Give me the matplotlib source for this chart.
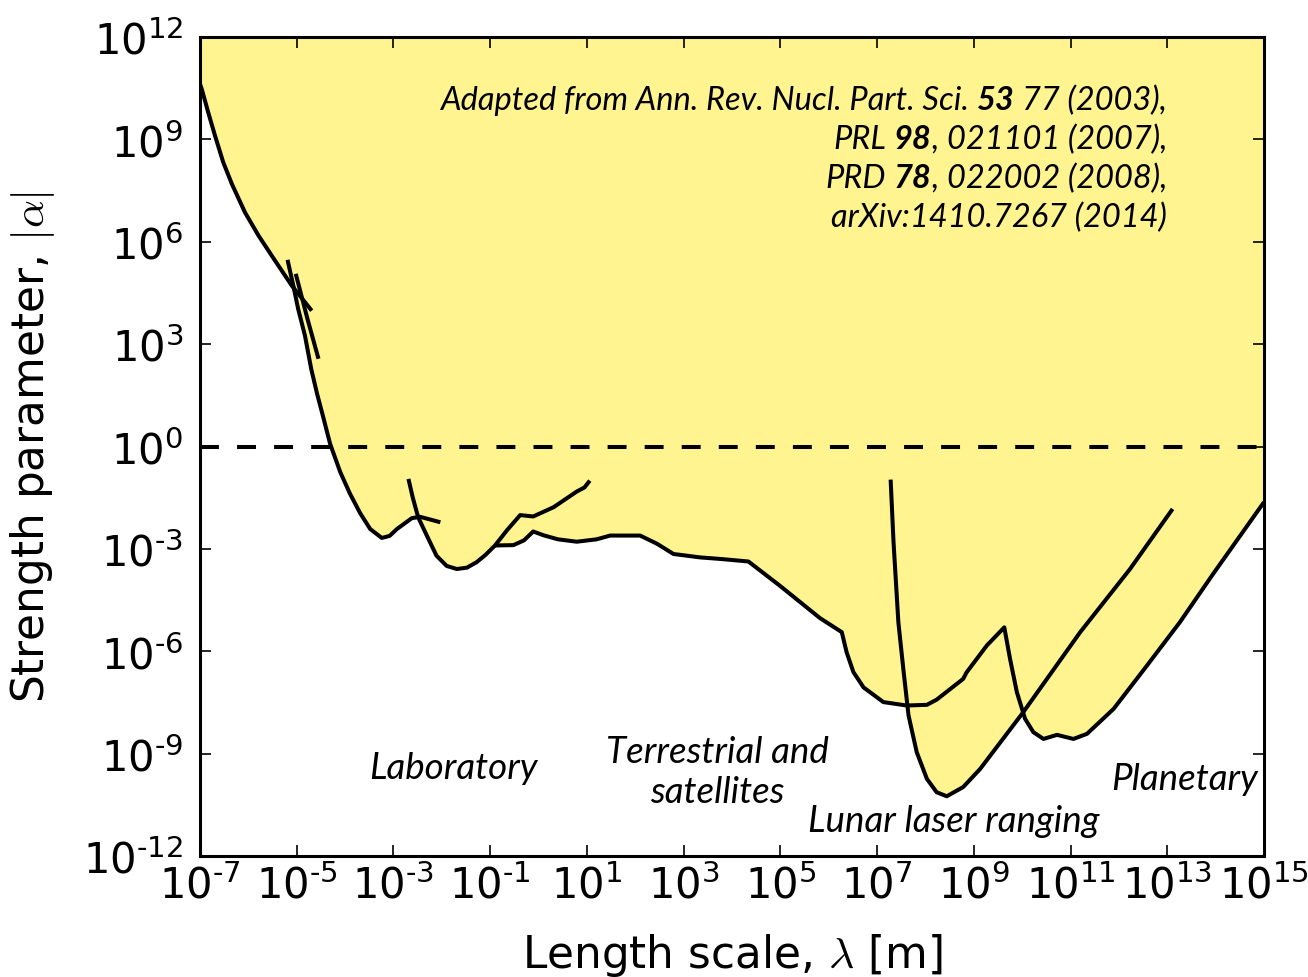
import numpy as np
import matplotlib
matplotlib.use("Agg")
import matplotlib.pyplot as plt
from matplotlib.ticker import FixedLocator, FuncFormatter, NullLocator

# Bounds on a Yukawa-type deviation from Newtonian gravity.
# Each bound is given as log10(lambda / m) and log10(|alpha|).
lab_a_x = [-7.0, -6.965, -6.83, -6.69, -6.52, -6.34, -6.07, -5.79, -5.45, -5.10, -4.69]
lab_a_y = [10.62, 10.48, 9.79, 9.11, 8.33, 7.69, 6.86, 6.18, 5.45, 4.71, 3.98]

lab_b_x = [-5.19, -5.07, -4.97, -4.83, -4.70, -4.58, -4.45, -4.31, -4.10, -3.90,
           -3.69, -3.48, -3.24, -3.08, -2.93, -2.62, -2.45, -2.03]
lab_b_y = [5.47, 4.71, 4.03, 3.25, 2.27, 1.55, 0.85, 0.08, -0.75, -1.38,
           -1.95, -2.42, -2.68, -2.62, -2.42, -2.10, -2.06, -2.22]

lab_c_x = [-5.02, -4.78, -4.55]
lab_c_y = [5.06, 3.75, 2.57]

lab_d_x = [-2.69, -2.60, -2.49, -2.31, -2.11, -1.90, -1.69, -1.48, -1.28, -1.10,
           -0.90, -0.65, -0.38, -0.11, 0.31, 0.79, 0.95, 1.06]
lab_d_y = [-0.95, -1.50, -2.07, -2.61, -3.20, -3.50, -3.59, -3.55, -3.39, -3.18,
           -2.90, -2.45, -2.01, -2.05, -1.78, -1.32, -1.20, -1.00]

geo_x = [-0.90, -0.52, -0.30, -0.11, 0.10, 0.40, 0.79, 1.20, 1.48, 2.10, 2.45,
         2.79, 3.34, 3.80, 4.34, 4.99, 5.82, 6.27, 6.37, 6.51, 6.72, 7.13, 7.61,
         8.03, 8.23, 8.78, 8.85, 9.27, 9.63, 9.75, 9.89, 10.06, 10.23, 10.44,
         10.72, 11.06, 11.34, 11.89, 12.58, 13.26, 13.95, 15.0]
geo_y = [-2.90, -2.89, -2.75, -2.49, -2.60, -2.72, -2.79, -2.72, -2.61, -2.61,
         -2.85, -3.15, -3.25, -3.30, -3.37, -4.08, -5.03, -5.44, -6.03, -6.61,
         -7.06, -7.49, -7.59, -7.57, -7.42, -6.81, -6.62, -5.83, -5.30, -6.23,
         -7.20, -7.98, -8.37, -8.57, -8.45, -8.57, -8.42, -7.69, -6.42, -5.15,
         -3.73, -1.63]

llr_x = [7.28, 7.34, 7.44, 7.55, 7.65, 7.82, 8.03, 8.23, 8.44, 8.78,
         9.13, 10.02, 11.20, 12.23, 13.11]
llr_y = [-0.97, -2.81, -5.15, -6.62, -7.88, -8.96, -9.74, -10.13, -10.25, -9.98,
         -9.45, -7.79, -5.44, -3.59, -1.83]

bounds = [(lab_a_x, lab_a_y), (lab_b_x, lab_b_y), (lab_c_x, lab_c_y),
          (lab_d_x, lab_d_y), (geo_x, geo_y), (llr_x, llr_y)]

x_exp_ticks = list(range(-7, 16, 2))
y_exp_ticks = list(range(-12, 13, 3))

W, H = 1308, 978
yellow = "#FFF48F"
lw = 2.9

plt.rcParams["mathtext.fontset"] = "cm"
fig = plt.figure(figsize=(W / 100, H / 100), dpi=100)
ax = fig.add_axes([200 / W, 1 - 857 / H, 1064 / W, 819 / H])
ax.set_xscale("log")
ax.set_yscale("log")
ax.set_xlim(1e-7, 1e15)
ax.set_ylim(1e-12, 1e12)

# excluded region: everything above the tightest bound at each length scale
grid = np.linspace(-7.0, 15.0, 8801)
env = np.full_like(grid, np.inf)
for bx, by in bounds:
    bx = np.asarray(bx)
    by = np.asarray(by)
    inside = (grid >= bx.min()) & (grid <= bx.max())
    env[inside] = np.minimum(env[inside], np.interp(grid[inside], bx, by))
ok = np.isfinite(env)
ax.fill_between(10 ** grid[ok], 10 ** env[ok], 1e12, color=yellow, lw=0, zorder=1)

for bx, by in bounds:
    ax.plot(10 ** np.asarray(bx), 10 ** np.asarray(by), color="k", lw=lw,
            solid_capstyle="butt", zorder=3)

ax.axhline(1.0, color="k", lw=lw, ls=(0, (4.7, 4.5)), zorder=2)


def pow10(v, pos):
    e = int(round(np.log10(v)))
    return r"$\mathdefault{10^{%s}}$" % str(e).replace("-", "\u2010")


ax.xaxis.set_major_locator(FixedLocator([10.0 ** e for e in x_exp_ticks]))
ax.yaxis.set_major_locator(FixedLocator([10.0 ** e for e in y_exp_ticks]))
ax.xaxis.set_minor_locator(NullLocator())
ax.yaxis.set_minor_locator(NullLocator())
ax.xaxis.set_major_formatter(FuncFormatter(pow10))
ax.yaxis.set_major_formatter(FuncFormatter(pow10))
ax.tick_params(which="major", direction="in", top=True, right=True,
               length=8, width=1.2, labelsize=30)
ax.tick_params(axis="x", pad=6)
ax.tick_params(axis="y", pad=12)
for s in ax.spines.values():
    s.set_linewidth(2.2)

ax.set_xlabel(r"Length scale, $\lambda$ [m]", fontsize=31.5)
ax.set_ylabel(r"Strength parameter, $|\alpha|$", fontsize=31.5)
ax.xaxis.set_label_coords(0.5, -0.091)
ax.yaxis.set_label_coords(-0.134, 0.5)

# reference block, right-aligned, with bold volume numbers
renderer = fig.canvas.get_renderer()
note_font = dict(family="Lato", style="italic", fontsize=23.5)
probe = fig.text(0, 0, "n n", **note_font)
probe_n = fig.text(0, 0, "n", **note_font)
space_w = (probe.get_window_extent(renderer).width
           - 2 * probe_n.get_window_extent(renderer).width)
probe.remove()
probe_n.remove()

ref_lines = [
    [("Adapted from Ann. Rev. Nucl. Part. Sci.", False), (" ", False),
     ("53", True), (" ", False), ("77 (2003),", False)],
    [("PRL", False), (" ", False), ("98", True), (", 021101 (2007),", False)],
    [("PRD", False), (" ", False), ("78", True), (", 022002 (2008),", False)],
    [("arXiv:1410.7267 (2014)", False)],
]
ref_baselines = [110, 149, 188, 227]
ref_right = 1167

for pieces, yb in zip(ref_lines, ref_baselines):
    x = ref_right
    for txt, bold in reversed(pieces):
        if txt == " ":
            x -= space_w
            continue
        t = fig.text(x / W, 1 - yb / H, txt, ha="right", va="baseline",
                     weight="bold" if bold else "normal", **note_font)
        x -= t.get_window_extent(renderer).width

region_font = dict(family="Lato", style="italic", fontsize=26.5,
                   ha="center", va="baseline")
fig.text(453 / W, 1 - 779 / H, "Laboratory", **region_font)
fig.text(717 / W, 1 - 763 / H, "Terrestrial and", **region_font)
fig.text(717 / W, 1 - 803 / H, "satellites", **region_font)
fig.text(954 / W, 1 - 832 / H, "Lunar laser ranging", **region_font)
fig.text(1185 / W, 1 - 790 / H, "Planetary", **region_font)

fig.savefig("out.png", dpi=100)
